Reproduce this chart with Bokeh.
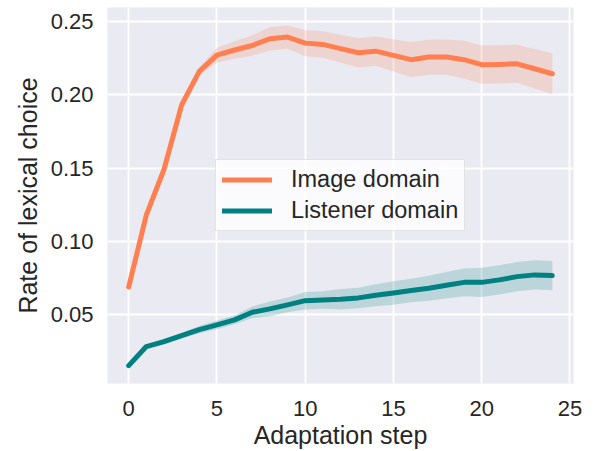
from bokeh.plotting import figure
from bokeh.models import Range1d, FixedTicker, Legend, LegendItem, NumeralTickFormatter
from bokeh.embed import file_html
from bokeh.resources import INLINE

steps = list(range(25))
image_mean = [0.0688, 0.118, 0.149, 0.193, 0.2159, 0.227, 0.2305, 0.2336, 0.2382, 0.2393,
              0.2352, 0.2343, 0.2314, 0.2286, 0.2297, 0.2268, 0.2239, 0.2257, 0.2257, 0.2239,
              0.2205, 0.2207, 0.2211, 0.2177, 0.2143]
image_err = [0.001, 0.0015, 0.002, 0.002, 0.003, 0.005, 0.006, 0.007, 0.008, 0.008,
             0.009, 0.009, 0.0095, 0.01, 0.01, 0.011, 0.012, 0.012, 0.012, 0.013,
             0.013, 0.013, 0.013, 0.0135, 0.014]
listener_mean = [0.0152, 0.0282, 0.0316, 0.0357, 0.0398, 0.043, 0.0464, 0.0516, 0.0539, 0.0566,
                 0.0595, 0.0600, 0.0604, 0.0614, 0.0632, 0.0648, 0.0665, 0.068, 0.0700, 0.0720,
                 0.0720, 0.0737, 0.0759, 0.0771, 0.0766]
listener_err = [0.001, 0.0015, 0.002, 0.002, 0.0025, 0.003, 0.003, 0.004, 0.005, 0.005,
                0.006, 0.006, 0.007, 0.007, 0.0075, 0.008, 0.008, 0.0085, 0.009, 0.0095,
                0.01, 0.01, 0.01, 0.01, 0.01]
x_ticks = [0, 5, 10, 15, 20, 25]
y_ticks = [0.05, 0.10, 0.15, 0.20, 0.25]
series_names = ["Image domain", "Listener domain"]
colors = ["#FF7F50", "#008080"]

FONT = "Liberation Sans"
TEXT = "#262626"

p = figure(width=594, height=451, x_range=Range1d(-1.2, 25.2), y_range=Range1d(0.003, 0.2595),
           output_backend="svg", toolbar_location=None,
           min_border_left=107, min_border_right=21, min_border_top=7, min_border_bottom=68,
           background_fill_color="#EAEAF2", border_fill_color="white", outline_line_color=None)

renderers = []
for mean, err, col in [(image_mean, image_err, colors[0]), (listener_mean, listener_err, colors[1])]:
    lo = [m - e for m, e in zip(mean, err)]
    hi = [m + e for m, e in zip(mean, err)]
    p.varea(x=steps, y1=lo, y2=hi, fill_color=col, fill_alpha=0.2)
    r = p.line(x=steps, y=mean, line_color=col, line_width=5, line_cap="round", line_join="round")
    renderers.append(r)

p.xaxis.ticker = FixedTicker(ticks=x_ticks)
p.yaxis.ticker = FixedTicker(ticks=y_ticks)
p.yaxis.formatter = NumeralTickFormatter(format="0.00")
p.xgrid.ticker = p.xaxis.ticker
p.ygrid.ticker = p.yaxis.ticker
p.grid.grid_line_color = "white"
p.grid.grid_line_width = 1.8

for ax in p.axis:
    ax.axis_line_color = None
    ax.major_tick_line_color = None
    ax.minor_tick_line_color = None
    ax.major_tick_out = 0
    ax.major_tick_in = 0
    ax.minor_tick_out = 0
    ax.minor_tick_in = 0
    ax.major_label_text_font = FONT
    ax.major_label_text_font_size = "22px"
    ax.major_label_text_color = TEXT
    ax.axis_label_text_font = FONT
    ax.axis_label_text_font_size = "25px"
    ax.axis_label_text_font_style = "normal"
    ax.axis_label_text_color = TEXT

p.xaxis.axis_label = "Adaptation step"
p.yaxis.axis_label = "Rate of lexical choice"
p.xaxis.major_label_standoff = 17
p.xaxis.axis_label_standoff = 2
p.yaxis.major_label_standoff = 14
p.yaxis.axis_label_standoff = 6

legend = Legend(items=[LegendItem(label=series_names[i], renderers=[renderers[i]]) for i in range(2)],
                location=(108, 152), margin=0, padding=6, spacing=4,
                glyph_height=27, glyph_width=50, label_standoff=19, label_height=27,
                label_text_font=FONT, label_text_font_size="23.5px", label_text_color=TEXT,
                border_line_color="#CCCCCC", border_line_width=1,
                background_fill_color="white", background_fill_alpha=0.8)
p.add_layout(legend)

open("out.html", "w").write(file_html(p, INLINE))
